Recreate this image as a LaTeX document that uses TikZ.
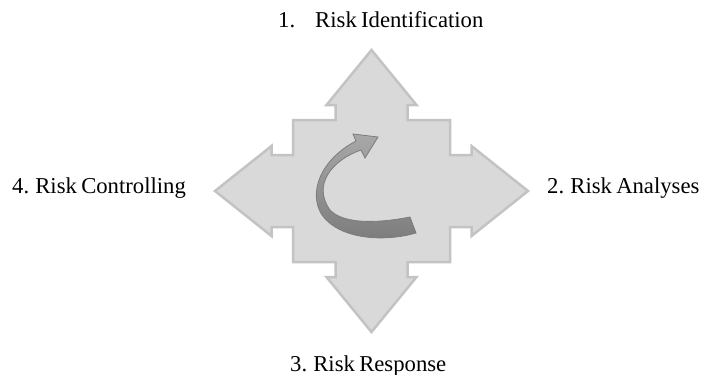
\documentclass[tikz,border=0pt]{standalone}
\usepackage{fontspec}
\setmainfont{Liberation Serif}
\newfontfamily\labelfont{Liberation Serif}[WordSpace=0.75]
\usepackage{tikz}
\definecolor{crossfill}{HTML}{D9D9D9}
\definecolor{crossline}{HTML}{C3C3C3}
\definecolor{bandlight}{HTML}{A8A8A8}
\definecolor{banddark}{HTML}{7C7C7C}
\tikzset{
  cross/.style={fill=crossfill, draw=crossline, line width=2.5pt, line join=miter},
  band/.style={top color=bandlight, bottom color=banddark, draw=banddark, line width=0.8pt},
  steplabel/.style={font=\labelfont\fontsize{22.7}{25}\selectfont, anchor=base west, inner sep=0pt},
}

\begin{document}
\begin{tikzpicture}[x=1pt, y=-1pt]
\useasboundingbox (0,0) rectangle (710,375);

% Four-way arrow cross
\draw[cross] (371.5,50) -- (416.5,105) -- (407.5,105) -- (407.5,120) -- (450,120)
  -- (450,155) -- (471.5,155) -- (471.5,146) -- (528,191) -- (471.5,236) -- (471.5,227)
  -- (450,227) -- (450,262) -- (407.5,262) -- (407.5,277) -- (416.5,277) -- (371.5,332)
  -- (326.5,277) -- (335.5,277) -- (335.5,262) -- (293,262) -- (293,227) -- (271.5,227)
  -- (271.5,236) -- (215,191) -- (271.5,146) -- (271.5,155) -- (293,155) -- (293,120)
  -- (335.5,120) -- (335.5,105) -- (326.5,105) -- cycle;

% Curved cycle arrow in the middle
\shade[band] (416,233) .. controls (385,242) and (340,240) .. (322,215)
  .. controls (308,193) and (320,160) .. (356,141) -- (353,134) -- (378,137)
  -- (365,158) -- (361,150) .. controls (332,160) and (312,185) .. (330,210)
  .. controls (345,226) and (385,222) .. (410,217) -- cycle;

% Step labels
\node[steplabel] (ident) at (278,27) {1.\hspace{20pt}Risk Identification};
\node[steplabel] (analyses) at (547,193) {2. Risk Analyses};
\node[steplabel] (response) at (290,371) {3. Risk Response};
\node[steplabel] (control) at (12,193) {4. Risk Controlling};

\end{tikzpicture}
\end{document}
